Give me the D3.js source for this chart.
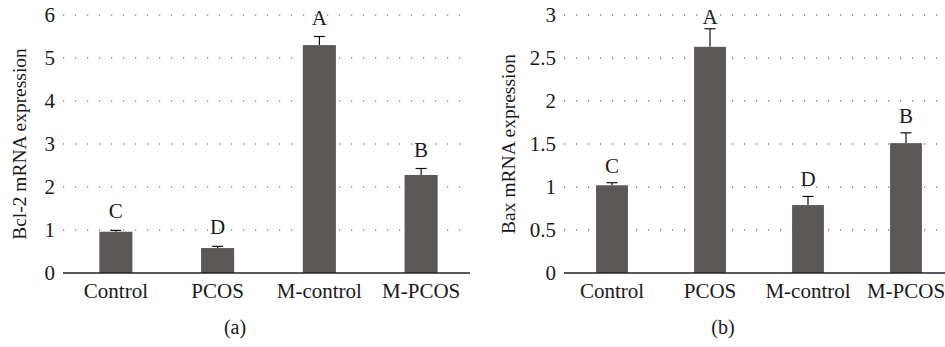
<!DOCTYPE html>
<html>
<head>
<meta charset="utf-8">
<script src="https://cdn.jsdelivr.net/npm/d3@7"></script>
<style>
  html, body { margin: 0; padding: 0; background: #fff; }
  svg { display: block; }
  text { font-family: "Liberation Serif", "DejaVu Serif", serif; fill: #1a1a1a; }
</style>
</head>
<body>
<svg id="chart" width="945" height="347"></svg>
<script>
const categories = ["Control", "PCOS", "M-control", "M-PCOS"];

const bcl2Values = [0.96, 0.58, 5.30, 2.28];
const bcl2Errors = [0.03, 0.04, 0.20, 0.15];
const bcl2Letters = ["C", "D", "A", "B"];
const bcl2Ticks = [0, 1, 2, 3, 4, 5, 6];

const baxValues = [1.02, 2.63, 0.79, 1.51];
const baxErrors = [0.03, 0.21, 0.10, 0.12];
const baxLetters = ["C", "A", "D", "B"];
const baxTicks = [0, 0.5, 1, 1.5, 2, 2.5, 3];

const svg = d3.select("#chart");
const barColor = "#5c5857";
const serif = '"Liberation Serif", "DejaVu Serif", serif';

function panel(opts) {
  const g = svg.append("g");
  const x = d3.scaleBand().domain(categories).range(opts.xRange).paddingInner(0.675).paddingOuter(0.3375);
  const y = d3.scaleLinear().domain([0, opts.yMax]).range([273, 15]);

  // dotted gridlines
  g.selectAll("line.grid").data(opts.ticks.filter(t => t > 0)).enter().append("line")
    .attr("x1", opts.axisStart).attr("x2", opts.axisEnd)
    .attr("y1", d => y(d)).attr("y2", d => y(d))
    .attr("stroke", "#444").attr("stroke-width", 1.2)
    .attr("stroke-dasharray", "1.2,10.8");

  // y tick labels via axis
  const yAxis = d3.axisLeft(y).tickValues(opts.ticks).tickSize(0).tickPadding(0)
    .tickFormat(d3.format("~g"));
  const ya = g.append("g").attr("transform", `translate(${opts.axisStart - 8},0)`).call(yAxis)
    .attr("font-family", serif).attr("font-size", 21);
  ya.select(".domain").remove();
  ya.selectAll("text").style("font-family", serif).style("font-size", "21px").attr("fill", "#1a1a1a");

  // bars
  g.selectAll("rect.bar").data(opts.values).enter().append("rect")
    .attr("x", (d, i) => x(categories[i]))
    .attr("width", x.bandwidth())
    .attr("y", d => y(d))
    .attr("height", d => y(0) - y(d))
    .attr("fill", barColor);

  // error bars
  opts.values.forEach((v, i) => {
    const cx = x(categories[i]) + x.bandwidth() / 2;
    const top = y(v + opts.errors[i]);
    g.append("line").attr("x1", cx).attr("x2", cx).attr("y1", y(v)).attr("y2", top)
      .attr("stroke", "#111").attr("stroke-width", 1.2);
    g.append("line").attr("x1", cx - 5.5).attr("x2", cx + 5.5).attr("y1", top).attr("y2", top)
      .attr("stroke", "#111").attr("stroke-width", 1.2);
    g.append("text").attr("x", cx).attr("y", Math.max(top - opts.gap, 24))
      .attr("text-anchor", "middle").style("font-size", "21px").text(opts.letters[i]);
  });

  // x axis baseline
  g.append("line").attr("x1", opts.axisStart).attr("x2", opts.axisEnd)
    .attr("y1", y(0)).attr("y2", y(0)).attr("stroke", "#222").attr("stroke-width", 1.3);

  // x labels
  const xAxis = d3.axisBottom(x).tickSize(0).tickPadding(0);
  const xa = g.append("g").attr("transform", `translate(0,${y(0)})`).call(xAxis)
    .attr("font-family", serif).attr("font-size", 21);
  xa.select(".domain").remove();
  xa.selectAll("text").attr("dy", null).attr("y", 25)
    .style("font-family", serif).style("font-size", "21px").attr("fill", "#1a1a1a");

  // y title
  g.append("text")
    .attr("transform", `translate(${opts.titleX},${(y(0) + y(opts.yMax)) / 2}) rotate(-90)`)
    .attr("text-anchor", "middle").attr("dy", "0.35em")
    .style("font-size", "19.5px").text(opts.title);

  // caption
  g.append("text").attr("x", opts.captionX).attr("y", 334).attr("text-anchor", "middle")
    .style("font-size", "20px").text(opts.caption);
}

panel({
  xRange: [65, 472], axisStart: 63, axisEnd: 470, yMax: 6, ticks: bcl2Ticks,
  values: bcl2Values, errors: bcl2Errors, letters: bcl2Letters, gap: 12,
  title: "Bcl-2 mRNA expression", titleX: 19, caption: "(a)", captionX: 235
});
panel({
  xRange: [563, 955], axisStart: 564, axisEnd: 945, yMax: 3, ticks: baxTicks,
  values: baxValues, errors: baxErrors, letters: baxLetters, gap: 10,
  title: "Bax mRNA expression", titleX: 508, caption: "(b)", captionX: 723
});
</script>
</body>
</html>
